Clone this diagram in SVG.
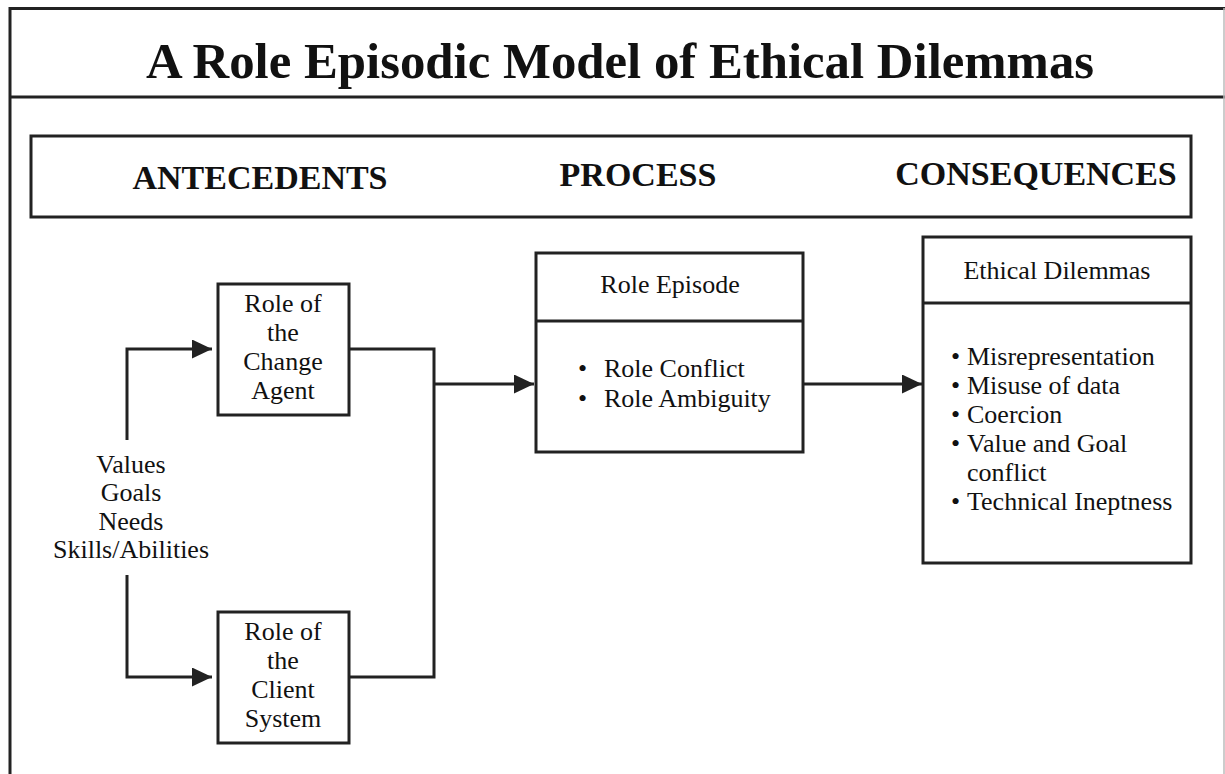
<svg xmlns="http://www.w3.org/2000/svg" width="1225" height="774" viewBox="0 0 1225 774">
<style>
.box{fill:#fff;stroke:#222;stroke-width:3}
.ln{fill:none;stroke:#222;stroke-width:3}
.t{font-family:"Liberation Serif","Times New Roman",serif;font-size:26px;fill:#111;text-anchor:middle}
.tl{font-family:"Liberation Serif","Times New Roman",serif;font-size:26px;fill:#111}
.h{font-family:"Liberation Serif","Times New Roman",serif;font-size:34px;font-weight:bold;fill:#111;text-anchor:middle}
</style>
<defs>
<marker id="arr" markerUnits="userSpaceOnUse" markerWidth="22" markerHeight="20" refX="20" refY="9.5" orient="auto">
<path d="M0,0 L20,9.5 L0,19 Z" fill="#222"/>
</marker>
</defs>
<rect width="1225" height="774" fill="#fff"/>
<g id="frame">
<line x1="10" y1="8.5" x2="1225" y2="8.5" class="ln"/>
<line x1="10" y1="7" x2="10" y2="774" class="ln"/>
<line x1="10" y1="97" x2="1225" y2="97" class="ln"/>
<line x1="1224" y1="8" x2="1224" y2="774" stroke="#bbb" stroke-width="1.5"/>
<text x="620" y="78" class="h" style="font-size:50.8px">A Role Episodic Model of Ethical Dilemmas</text>
</g>
<g id="header">
<rect x="31" y="136" width="1160" height="81" class="box"/>
<text x="260" y="189" class="h">ANTECEDENTS</text>
<text x="638" y="186" class="h">PROCESS</text>
<text x="1036" y="185" class="h">CONSEQUENCES</text>
</g>
<g id="connectors">
<path d="M127,440 V349 H212" class="ln" marker-end="url(#arr)"/>
<path d="M127,575 V677 H212" class="ln" marker-end="url(#arr)"/>
<path d="M349,349 H434 V677 H349" class="ln"/>
<path d="M434,384 H534" class="ln" marker-end="url(#arr)"/>
<path d="M803,384 H922" class="ln" marker-end="url(#arr)"/>
</g>
<g id="antecedents">
<text class="t" x="131"><tspan x="131" y="473">Values</tspan><tspan x="131" y="501">Goals</tspan><tspan x="131" y="530">Needs</tspan><tspan x="131" y="558">Skills/Abilities</tspan></text>
</g>
<g id="change-agent">
<rect x="218" y="284" width="131" height="131" class="box"/>
<text class="t"><tspan x="283" y="312">Role of</tspan><tspan x="283" y="341">the</tspan><tspan x="283" y="370">Change</tspan><tspan x="283" y="399">Agent</tspan></text>
</g>
<g id="client-system">
<rect x="218" y="612" width="131" height="131" class="box"/>
<text class="t"><tspan x="283" y="640">Role of</tspan><tspan x="283" y="669">the</tspan><tspan x="283" y="698">Client</tspan><tspan x="283" y="727">System</tspan></text>
</g>
<g id="role-episode">
<rect x="536" y="253" width="267" height="199" class="box"/>
<line x1="536" y1="321" x2="803" y2="321" class="ln"/>
<text x="670" y="293" class="t">Role Episode</text>
<text class="tl"><tspan x="578" y="377">•</tspan><tspan x="604" y="377">Role Conflict</tspan><tspan x="578" y="407">•</tspan><tspan x="604" y="407">Role Ambiguity</tspan></text>
</g>
<g id="ethical-dilemmas">
<rect x="923" y="237" width="268" height="326" class="box"/>
<line x1="923" y1="303" x2="1191" y2="303" class="ln"/>
<text x="1057" y="279" class="t">Ethical Dilemmas</text>
<text class="tl"><tspan x="951" y="365">•</tspan><tspan x="967" y="365">Misrepresentation</tspan><tspan x="951" y="394">•</tspan><tspan x="967" y="394">Misuse of data</tspan><tspan x="951" y="423">•</tspan><tspan x="967" y="423">Coercion</tspan><tspan x="951" y="452">•</tspan><tspan x="967" y="452">Value and Goal</tspan><tspan x="967" y="481">conflict</tspan><tspan x="951" y="510">•</tspan><tspan x="967" y="510">Technical Ineptness</tspan></text>
</g>
</svg>
